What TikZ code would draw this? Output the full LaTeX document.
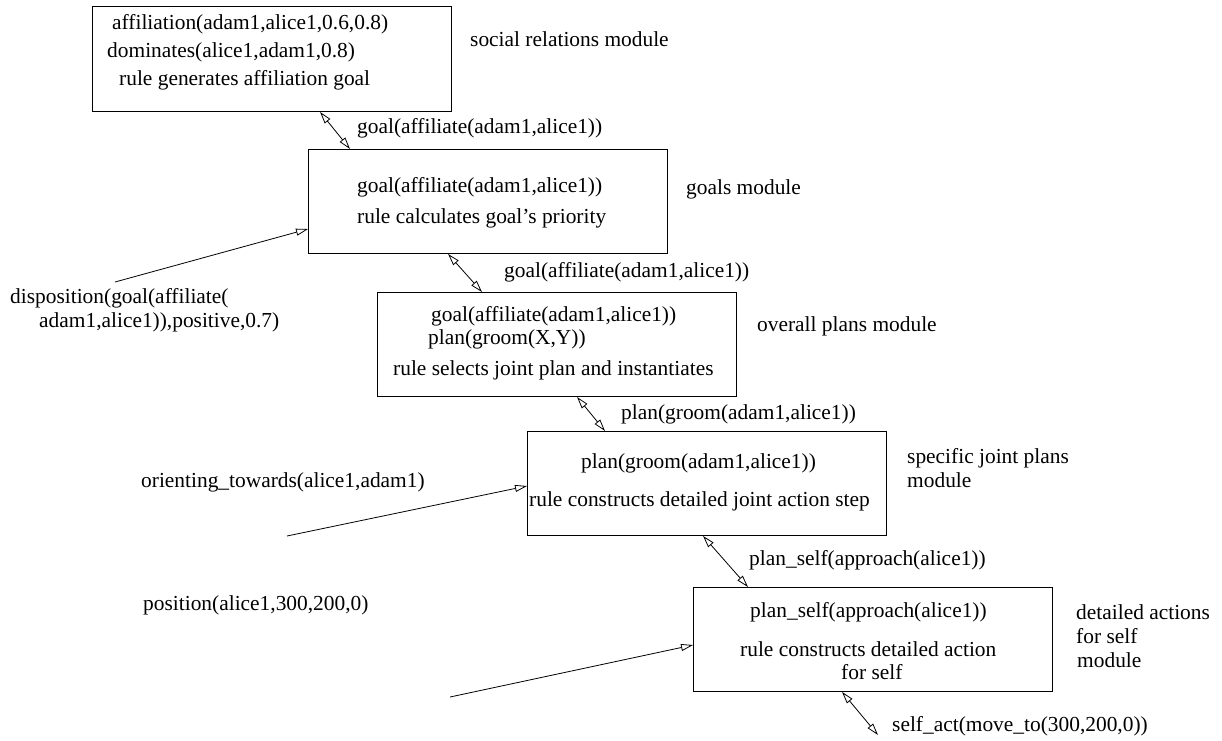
\documentclass[tikz,border=0pt]{standalone}
\usepackage{fontspec}
\setmainfont{Liberation Serif}
\usetikzlibrary{arrows.meta,calc}
\tikzset{
  box/.style={draw, line width=0.9pt, rectangle, inner sep=0pt, anchor=north west,
              minimum width=359pt, minimum height=104pt},
  txt/.style={anchor=base west, inner sep=0pt, font=\fontsize{21.4}{26}\selectfont},
  link/.style={line width=0.8pt, {Triangle[open,length=12pt,width=7pt]}-{Triangle[open,length=12pt,width=7pt]}},
  feed/.style={line width=0.8pt, -{Triangle[open,length=12pt,width=7pt]}}
}
\begin{document}
\begin{tikzpicture}[x=1pt,y=-1pt]
\useasboundingbox (0,0) rectangle (1222,740);

% module boxes
\node[box, minimum height=105pt] (b1) at (92,6) {};
\node[box] (b2) at (308,149) {};
\node[box] (b3) at (377,292) {};
\node[box] (b4) at (527,431) {};
\node[box] (b5) at (693,587) {};

% social relations module
\node[txt] (t11) at (112,29) {affiliation(adam1,alice1,0.6,0.8)};
\node[txt] (t12) at (107,57) {dominates(alice1,adam1,0.8)};
\node[txt] (t13) at (119,85) {rule generates affiliation goal};
\node[txt] (m1) at (470,46) {social relations module};

% goals module
\node[txt] (l2) at (357,133) {goal(affiliate(adam1,alice1))};
\node[txt] (t21) at (357,192) {goal(affiliate(adam1,alice1))};
\node[txt] (t22) at (357,223) {rule calculates goal’s priority};
\node[txt] (m2) at (686,194) {goals module};

% overall plans module
\node[txt] (l3) at (504,277) {goal(affiliate(adam1,alice1))};
\node[txt] (t31) at (431,321) {goal(affiliate(adam1,alice1))};
\node[txt] (t32) at (428,344) {plan(groom(X,Y))};
\node[txt] (t33) at (393,375) {rule selects joint plan and instantiates};
\node[txt] (m3) at (757,331) {overall plans module};

% specific joint plans module
\node[txt] (l4) at (621,419) {plan(groom(adam1,alice1))};
\node[txt] (t41) at (581,468) {plan(groom(adam1,alice1))};
\node[txt] (t42) at (529,506) {rule constructs detailed joint action step};
\node[txt] (m4a) at (907,463) {specific joint plans};
\node[txt] (m4b) at (907,487) {module};

% detailed actions for self module
\node[txt] (l5) at (749,565) {plan\_self(approach(alice1))};
\node[txt] (t51) at (750,617) {plan\_self(approach(alice1))};
\node[txt] (t52) at (740,656) {rule constructs detailed action};
\node[txt] (t53) at (841,679) {for self};
\node[txt] (m5a) at (1076,619) {detailed actions};
\node[txt] (m5b) at (1076,643) {for self};
\node[txt] (m5c) at (1077,667) {module};

% external inputs and output
\node[txt] (d1) at (10,303) {disposition(goal(affiliate(};
\node[txt] (d2) at (39,327) {adam1,alice1)),positive,0.7)};
\node[txt] (o1) at (141,487) {orienting\_towards(alice1,adam1)};
\node[txt] (p1) at (143,610) {position(alice1,300,200,0)};
\node[txt] (s1) at (892,731) {self\_act(move\_to(300,200,0))};

\coordinate (dstart) at (115,282);
\coordinate (ostart) at (287,536);
\coordinate (pstart) at (450,697);
\coordinate (send) at (878,735);

% links between modules
\draw[link] ([xshift=228pt]b1.south west) -- ([xshift=42pt]b2.north west);
\draw[link] ([xshift=140pt]b2.south west) -- ([xshift=105pt]b3.north west);
\draw[link] ([xshift=200pt]b3.south west) -- ([xshift=78pt]b4.north west);
\draw[link] ([xshift=176pt]b4.south west) -- ([xshift=55pt]b5.north west);
\draw[link] ([xshift=149pt]b5.south west) -- (send);

% inputs
\draw[feed] (dstart) -- ([yshift=-80pt]b2.north west);
\draw[feed] (ostart) -- ([yshift=-55pt]b4.north west);
\draw[feed] (pstart) -- ([yshift=-58pt]b5.north west);
\end{tikzpicture}
\end{document}
